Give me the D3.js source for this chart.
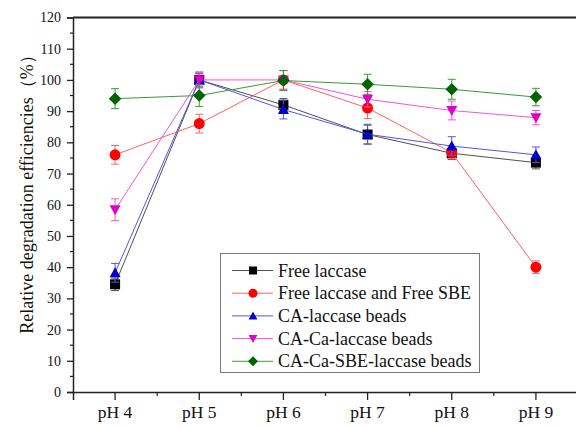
<!DOCTYPE html>
<html><head><meta charset="utf-8">
<script src="https://cdn.jsdelivr.net/npm/d3@7/dist/d3.min.js"></script>
<style>body{margin:0;background:#fff}svg{display:block}</style>
</head><body><svg id="c" width="576" height="428"></svg>
<script>
const categories = ["pH 4","pH 5","pH 6","pH 7","pH 8","pH 9"];
const seriesNames = ["Free laccase","Free laccase and Free SBE","CA-laccase beads","CA-Ca-laccase beads","CA-Ca-SBE-laccase beads"];
const freeLaccase = [34.5, 100, 92, 82.5, 76.5, 73.5];
const freeLaccaseErr = [2, 2, 2, 3, 2, 2];
const freeLaccaseSBE = [76, 86, 100, 91, 76.7, 40];
const freeLaccaseSBEErr = [3, 3, 3, 3.4, 2, 2];
const caLaccase = [38.2, 100, 90.5, 82.6, 78.8, 76];
const caLaccaseErr = [3, 2.5, 3, 3.2, 3, 2.5];
const caCaLaccase = [58.4, 100, 100, 93.8, 90.2, 87.9];
const caCaLaccaseErr = [3.5, 2.5, 3, 2.5, 3, 2.3];
const caCaSBELaccase = [94, 95, 99.8, 98.6, 97, 94.5];
const caCaSBELaccaseErr = [3.2, 3.5, 3.2, 3.2, 3.2, 2.8];
const yTicks = [0,10,20,30,40,50,60,70,80,90,100,110,120];

const seriesValues = [freeLaccase, freeLaccaseSBE, caLaccase, caCaLaccase, caCaSBELaccase];
const seriesErrs = [freeLaccaseErr, freeLaccaseSBEErr, caLaccaseErr, caCaLaccaseErr, caCaSBELaccaseErr];
const markColors = ["#000000","#ff0000","#0000c8","#e000c8","#006400"];
const lineColors = ["#505050","#ff6060","#5555dd","#ee55dd","#3a9a3a"];
const symbols = ["square","circle","up","down","diamond"];

const svg = d3.select("#c");
const serif = "'Liberation Serif','Times New Roman',serif";
const L = 73, R = 578, T = 17.5, B = 392;
const x = d3.scaleBand().domain(categories).range([L, R]).padding(0);
const cx = c => x(c) + x.bandwidth()/2;
const y = d3.scaleLinear().domain([0,120]).range([B, T]);

// y axis
const yAxis = d3.axisLeft(y).tickValues(yTicks).tickSize(6).tickPadding(6).tickFormat(d3.format("d"));
const gy = svg.append("g").attr("transform", `translate(${L},0)`).call(yAxis);
gy.select(".domain").attr("stroke","#222").attr("stroke-width",1.5);
gy.selectAll(".tick line").attr("stroke","#222").attr("stroke-width",1.3);
gy.selectAll("text").attr("font-family", serif).attr("font-size", 14).attr("fill","#111");
const minorY = d3.range(5, 120, 10);
svg.append("g").selectAll("line").data(minorY).join("line")
  .attr("x1", L-3).attr("x2", L).attr("y1", d=>y(d)).attr("y2", d=>y(d))
  .attr("stroke","#222").attr("stroke-width",1.2);

// x axis
const xAxis = d3.axisBottom(x).tickSize(8).tickPadding(6);
const gx = svg.append("g").attr("transform", `translate(0,${B})`).call(xAxis);
gx.select(".domain").attr("stroke","#222").attr("stroke-width",1.5);
gx.selectAll(".tick line").attr("stroke","#222").attr("stroke-width",1.3);
gx.selectAll("text").attr("font-family", serif).attr("font-size", 17.5).attr("fill","#111");
svg.append("g").selectAll("line").data(categories.slice(1)).join("line")
  .attr("x1", d=>x(d)).attr("x2", d=>x(d)).attr("y1", B).attr("y2", B+4)
  .attr("stroke","#222").attr("stroke-width",1.2);

// top frame
svg.append("line").attr("x1", L).attr("x2", 576).attr("y1", T).attr("y2", T)
  .attr("stroke","#222").attr("stroke-width",2);

// y title
svg.append("text").attr("transform", `translate(33,190) rotate(-90)`)
  .attr("text-anchor","middle").attr("font-family", serif).attr("font-size", 18).attr("fill","#111")
  .text("Relative degradation efficiencies（%）");

function symPath(type, s) {
  const h = s/2;
  if (type === "square") return `M${-h},${-h}H${h}V${h}H${-h}Z`;
  if (type === "up") return `M0,${-h*1.1}L${h*1.1},${h*0.9}L${-h*1.1},${h*0.9}Z`;
  if (type === "down") return `M0,${h*1.1}L${h*1.1},${-h*0.9}L${-h*1.1},${-h*0.9}Z`;
  if (type === "diamond") return `M0,${-h*1.25}L${h*1.25},0L0,${h*1.25}L${-h*1.25},0Z`;
  return null;
}
function drawMarker(g, type, color, s) {
  if (type === "circle") g.append("circle").attr("r", s/2+0.5).attr("fill", color);
  else g.append("path").attr("d", symPath(type, s)).attr("fill", color);
}

// series
const line = d3.line().x((d,i)=>cx(categories[i])).y(d=>y(d));
seriesValues.forEach((vals, si) => {
  const g = svg.append("g");
  g.append("path").datum(vals).attr("d", line).attr("fill","none")
    .attr("stroke", lineColors[si]).attr("stroke-width",1);
  vals.forEach((v, i) => {
    const e = seriesErrs[si][i];
    const px = cx(categories[i]);
    const eg = g.append("g").attr("stroke", lineColors[si]).attr("stroke-width",1);
    eg.append("line").attr("x1",px).attr("x2",px).attr("y1",y(v+e)).attr("y2",y(v-e));
    eg.append("line").attr("x1",px-4).attr("x2",px+4).attr("y1",y(v+e)).attr("y2",y(v+e));
    eg.append("line").attr("x1",px-4).attr("x2",px+4).attr("y1",y(v-e)).attr("y2",y(v-e));
    const mg = g.append("g").attr("transform",`translate(${px},${y(v)})`);
    drawMarker(mg, symbols[si], markColors[si], 10);
  });
});

// legend
const lg = svg.append("g");
lg.append("rect").attr("x",220.5).attr("y",253.5).attr("width",259).attr("height",119)
  .attr("fill","#fff").attr("stroke","#777").attr("stroke-width",1);
seriesNames.forEach((name, i) => {
  const ry = 270.5 + i*22.7;
  lg.append("line").attr("x1",232).attr("x2",273).attr("y1",ry).attr("y2",ry)
    .attr("stroke", lineColors[i]).attr("stroke-width",1);
  const mg = lg.append("g").attr("transform",`translate(253,${ry})`);
  drawMarker(mg, symbols[i], markColors[i], 8);
  lg.append("text").attr("x",278).attr("y",ry+6).attr("font-family", serif)
    .attr("font-size",18).attr("fill","#111").text(name);
});
</script></body></html>
